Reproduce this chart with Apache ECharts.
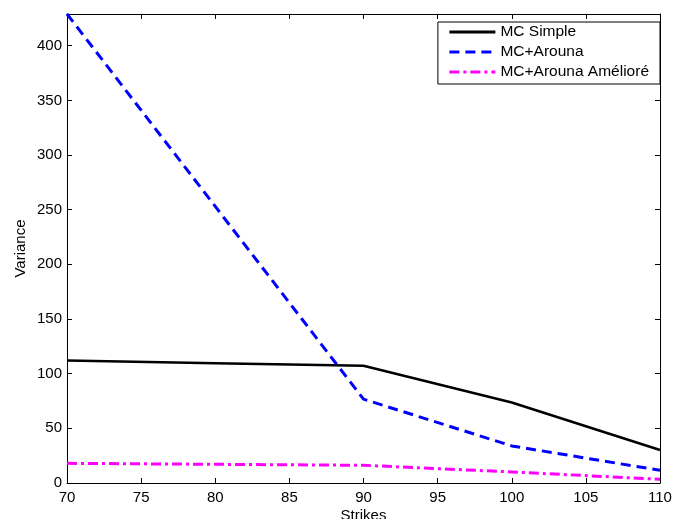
<!DOCTYPE html>
<html>
<head>
<meta charset="utf-8">
<script src="https://cdn.jsdelivr.net/npm/echarts@6/dist/echarts.min.js"></script>
<style>html,body{margin:0;padding:0;background:#fff;overflow:hidden;}#c{width:673px;height:519px;}</style>
</head>
<body>
<div id="c"></div>
<script>
var strikes = [70, 80, 90, 100, 110];
var mcSimple = [112, 109.6, 107.3, 73.6, 30.2];
var mcArouna = [429, 253, 76.7, 33.9, 11.6];
var mcArounaAmeliore = [18.0, 17.1, 16.2, 10.1, 3.4];
var seriesNames = ['MC Simple', 'MC+Arouna', 'MC+Arouna Amélioré'];
var yTicks = [0, 50, 100, 150, 200, 250, 300, 350, 400];
var xTicks = [70, 75, 80, 85, 90, 95, 100, 105, 110];

function pairs(xs, ys) { return xs.map(function (x, i) { return [x, ys[i]]; }); }

var font = 'Liberation Sans, Arial, Helvetica, sans-serif';
var chart = echarts.init(document.getElementById('c'), null, {renderer: 'canvas'});
var axisCommon = {
  axisLine: {show: true, onZero: false, lineStyle: {color: '#000', width: 1}},
  axisTick: {show: true, inside: true, length: 5, lineStyle: {color: '#000'}},
  splitLine: {show: false}
};
chart.setOption({
  animation: false,
  backgroundColor: '#fff',
  grid: {left: 67, right: 13, top: 14, bottom: 36, containLabel: false, outerBoundsMode: 'none'},
  legend: {
    orient: 'vertical', right: 13, top: 22,
    backgroundColor: '#fff', borderColor: '#000', borderWidth: 1,
    padding: [2, 11, 4, 10], itemGap: 4, itemWidth: 46, itemHeight: 14,
    itemStyle: {opacity: 0},
    lineStyle: {width: 3},
    textStyle: {fontFamily: font, fontSize: 15.5, color: '#000'},
    data: seriesNames.map(function (n) { return {name: n}; })
  },
  xAxis: [Object.assign({
    type: 'value', min: 70, max: 110, interval: 5, position: 'bottom',
    name: 'Strikes', nameLocation: 'middle', nameGap: 25, nameMoveOverlap: false,
    nameTextStyle: {fontFamily: font, fontSize: 15, color: '#000'},
    axisLabel: {fontFamily: font, fontSize: 15, color: '#000', margin: 7,
      formatter: function (v) { return xTicks.indexOf(v) >= 0 ? String(v) : ''; }}
  }, axisCommon), Object.assign({
    type: 'value', min: 70, max: 110, interval: 5, position: 'top',
    axisLabel: {show: false}
  }, axisCommon)],
  yAxis: [Object.assign({
    type: 'value', min: 0, max: 429, interval: 50, position: 'left',
    name: 'Variance', nameLocation: 'middle', nameGap: 39, nameRotate: 90, nameMoveOverlap: false,
    nameTextStyle: {fontFamily: font, fontSize: 15, color: '#000'},
    axisLabel: {fontFamily: font, fontSize: 15, color: '#000', margin: 5, showMaxLabel: false,
      formatter: function (v) { return yTicks.indexOf(v) >= 0 ? String(v) : ''; }}
  }, axisCommon), Object.assign({
    type: 'value', min: 0, max: 429, interval: 50, position: 'right',
    axisLabel: {show: false}
  }, axisCommon)],
  series: [
    {name: seriesNames[0], type: 'line', symbol: 'none', data: pairs(strikes, mcSimple),
      lineStyle: {color: '#000', width: 2.5, type: 'solid'}, itemStyle: {color: '#000'}},
    {name: seriesNames[1], type: 'line', symbol: 'none', data: pairs(strikes, mcArouna),
      lineStyle: {color: '#0000ff', width: 3, type: [10, 6]}, itemStyle: {color: '#0000ff'}},
    {name: seriesNames[2], type: 'line', symbol: 'none', data: pairs(strikes, mcArounaAmeliore),
      lineStyle: {color: '#ff00ff', width: 3, type: [10, 4, 3, 4]}, itemStyle: {color: '#ff00ff'}}
  ]
});
</script>
</body>
</html>
